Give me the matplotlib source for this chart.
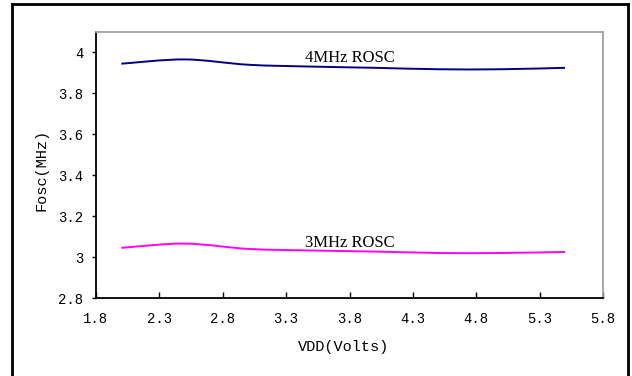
import numpy as np
import matplotlib
matplotlib.use("Agg")
import matplotlib.pyplot as plt
from matplotlib.path import Path
from matplotlib.patches import PathPatch
from matplotlib.lines import Line2D

vdd = [2.0, 2.5, 3.0, 3.5, 4.0, 4.5, 5.0, 5.5]
f4mhz = [3.945, 3.966, 3.940, 3.931, 3.925, 3.918, 3.918, 3.925]
f3mhz = [3.045, 3.066, 3.040, 3.032, 3.027, 3.020, 3.020, 3.025]
xticks = [1.8, 2.3, 2.8, 3.3, 3.8, 4.3, 4.8, 5.3, 5.8]
yticks = [2.8, 3.0, 3.2, 3.4, 3.6, 3.8, 4.0]

font = ["Liberation Mono", "DejaVu Sans Mono"]
serif = ["Liberation Serif", "DejaVu Serif"]


def smooth_path(x, y):
    # excel-style smoothed line: cubic bezier through the points
    x = np.asarray(x); y = np.asarray(y)
    verts = [(x[0], y[0])]
    codes = [Path.MOVETO]
    n = len(x)
    for i in range(n - 1):
        p0 = (x[max(i - 1, 0)], y[max(i - 1, 0)])
        p1 = (x[i], y[i])
        p2 = (x[i + 1], y[i + 1])
        p3 = (x[min(i + 2, n - 1)], y[min(i + 2, n - 1)])
        c1 = (p1[0] + (p2[0] - p0[0]) / 6, p1[1] + (p2[1] - p0[1]) / 6)
        c2 = (p2[0] - (p3[0] - p1[0]) / 6, p2[1] - (p3[1] - p1[1]) / 6)
        verts += [c1, c2, p2]
        codes += [Path.CURVE4] * 3
    return Path(verts, codes)


fig = plt.figure(figsize=(6.32, 3.76), dpi=100)
ax = fig.add_axes([96 / 632, 1 - 298 / 376, (603 - 96) / 632, (298 - 32) / 376])

ax.add_patch(PathPatch(smooth_path(vdd, f4mhz), fill=False, edgecolor="#000080", lw=1.4))
ax.add_patch(PathPatch(smooth_path(vdd, f3mhz), fill=False, edgecolor="#FF00FF", lw=1.4))

ax.set_xlim(1.8, 5.8)
ax.set_ylim(2.8, 4.1)
ax.set_xticks(xticks)
ax.set_xticklabels(["%.1f" % v for v in xticks], fontfamily=font, fontsize=10)
ax.set_yticks(yticks)
ax.set_yticklabels(["3" if v == 3.0 else ("4" if v == 4.0 else "%.1f" % v) for v in yticks],
                   fontfamily=font, fontsize=10)
ax.tick_params(axis="x", direction="in", length=4, width=1, pad=10)
ax.tick_params(axis="y", direction="out", length=3, width=1, pad=6)

for s in ["left", "bottom"]:
    ax.spines[s].set_color("black")
    ax.spines[s].set_linewidth(1.3)
for s in ["top", "right"]:
    ax.spines[s].set_color("#a0a0a0")
    ax.spines[s].set_linewidth(1.3)

ax.text(3.8, 3.952, "4MHz ROSC", ha="center", va="baseline", fontsize=12, fontfamily=serif)
ax.text(3.8, 3.049, "3MHz ROSC", ha="center", va="baseline", fontsize=12, fontfamily=serif)

fig.text(344 / 632, 1 - 347 / 376, "VDD(Volts)", ha="center", va="center",
         fontsize=11, fontfamily=font)
fig.text(41 / 632, 1 - 170 / 376, "Fosc(MHz)", ha="center", va="center",
         fontsize=11, fontfamily=font, rotation=90)

# outer frame
x0, x1 = 11.5 / 632, 628 / 632
y0 = 1 - 4 / 376
fig.add_artist(Line2D([x0, x0], [0, y0], color="black", lw=2))
fig.add_artist(Line2D([x0, x1], [y0, y0], color="black", lw=2))
fig.add_artist(Line2D([x1, x1], [0, y0], color="black", lw=2))

fig.savefig("out.png", dpi=100)
